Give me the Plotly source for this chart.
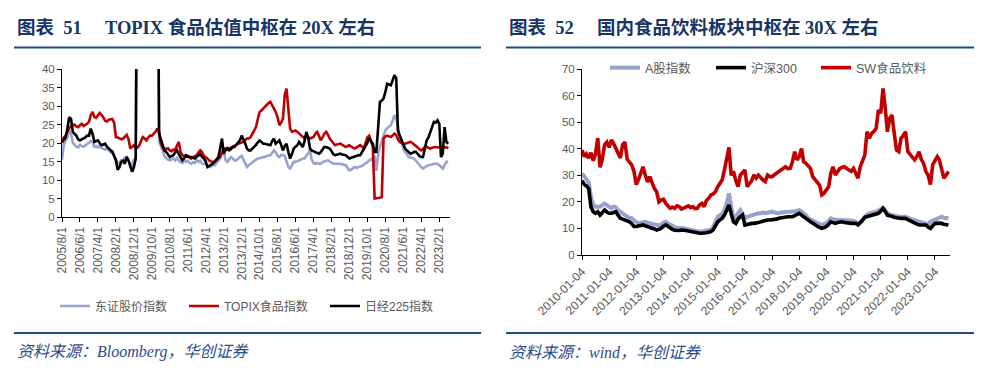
import pandas as pd
import plotly.graph_objects as go

# ---------------- Left chart data (monthly, from 2005-08) ----------------
jp_start = "2005-08-01"
jp_end = "2023-08-01"
topix = [
    15.5, 19.5, 20.5, 21.5, 23.5, 22.5, 20, 19.5, 19, 18.8,
    19.5, 19.2, 19, 19.3, 19.8, 20, 20.5, 20.3, 19, 19.2,
    18.8, 19.3, 18.6, 18.4, 18.2, 18.6, 17.9, 17.5, 17.8, 16.8,
    15.8, 14.5, 14.8, 15.4, 15.2, 16, 16.3, 15.5, 13.6, 14.2,
    15.5, 16, 100, 100, 100, 100, 100, 100, 100, 100,
    100, 100, 100, 100, 20.5, 19.5, 18, 16.5, 16, 15.5,
    15.3, 15.5, 15.8, 15.3, 16, 15.2, 14.9, 14.6, 15.2, 14.9,
    15.2, 14.6, 14.4, 14.8, 14.6, 15.4, 14.9, 15.2, 14.4, 14.3,
    14.5, 13.8, 13.5, 13.7, 14.2, 14, 14.6, 15.2, 15.8, 17.5,
    18, 15.5, 14.9, 15.5, 16.2, 15.8, 15.3, 15.3, 15.8, 16.2,
    16.5, 15.5, 14.5, 13.5, 14, 14.4, 14.8, 15.3, 15.5, 15.8,
    15.8, 16, 16.2, 16.2, 16.5, 16.7, 16.7, 17.3, 18, 17.5,
    16.5, 16.2, 16.8, 16.7, 16.5, 15, 13.5, 13.1, 14, 14.9,
    14.9, 15.2, 15.3, 15.5, 15.8, 15.8, 16.5, 17.5, 18, 15.5,
    14.6, 14.4, 14.6, 14.4, 14.4, 14.8, 15, 15.3, 15.3, 15,
    14.7, 14.4, 14.4, 14.5, 14.4, 14.4, 14.2, 14, 14, 13.2,
    12.6, 12.8, 13.3, 13.5, 13.3, 13.5, 13.5, 13.8, 14.2, 14.4,
    14.8, 15.3, 15.5, 16, 16.2, 12.5, 17, 19, 20.7, 22,
    23.4, 24, 24.5, 24.8, 26, 27.5, 26.5, 24.8, 21.5, 19.8,
    18.5, 17.5, 17, 16.2, 16, 15.8, 15.8, 15.2, 14.5, 14,
    13.5, 13.1, 13.5, 13.8, 14, 14, 14.2, 14.4, 14.3, 14.4,
    14, 13.5, 13.1, 14, 14.9, 14.9,
]
topix_food = [
    20, 21.5, 22, 23, 24, 24.5, 24.8, 25, 24.5, 24.3,
    24.8, 25.2, 24.6, 24.8, 25.2, 25.7, 27.5, 28.4, 27, 26.8,
    27.5, 28.1, 27.6, 27, 26, 25.8, 26.3, 26.3, 26.5, 25.5,
    21.6, 21.5, 21.2, 21, 21.2, 21.8, 22.2, 21, 18.5, 19,
    19.4, 18.5, 18.8, 19.4, 20.5, 21.6, 21.2, 20.7, 21.5, 22,
    22, 22.5, 23, 23.9, 23, 20, 18.8, 18.5, 18.3, 18.6,
    18, 17.8, 18.2, 18.2, 19.5, 20.3, 17.5, 16.7, 16.5, 16.2,
    16.4, 16, 15.8, 16.2, 16.5, 16.7, 17.5, 18, 17.5, 16.5,
    16.2, 15.6, 15.3, 15, 15, 14.9, 15.3, 15.8, 16.2, 17.3,
    18.5, 18.5, 18.7, 18.5, 18.7, 18.9, 19.2, 19.5, 19.8, 20,
    20.3, 20.3, 20.8, 21.2, 21.2, 21.6, 22.5, 23.4, 24.3, 26.5,
    28.4, 28.8, 29.3, 30, 30.6, 30.8, 31.1, 30, 29.3, 28.4,
    27, 24.8, 25.5, 26.6, 33, 34.7, 30, 23.9, 23, 23.2,
    23.4, 23, 22.5, 22, 21.5, 21.2, 22, 21.6, 21.2, 21.4,
    21.6, 22.5, 23, 22, 20.7, 21.5, 22.5, 23, 22.3, 21.2,
    20.5, 19.8, 19.4, 19.6, 19.8, 19.8, 19.5, 19.2, 18.9, 19.2,
    19.4, 19, 18.7, 18.5, 18.8, 19.2, 19.4, 19, 18.5, 20,
    21.5, 22, 20.7, 19, 5, 5, 5, 5.2, 5.4, 21.2,
    21.8, 22, 21.8, 21.6, 22, 22.5, 22.2, 21, 20.3, 20,
    19.8, 19.8, 20, 20.3, 20.3, 20, 19.6, 19.4, 18.8, 18.3,
    18, 18.4, 18.9, 18.9, 18.7, 18.5, 18.7, 18.9, 18.9, 18.8,
    18.9, 18.9, 18.7, 18.9, 18.9, 18.5,
]
nikkei225 = [
    20.3, 21, 21.5, 24, 27, 26.5, 23, 22.5, 22, 21,
    20.7, 21, 21.2, 21.5, 22, 22, 23.9, 22.5, 20.3, 20.5,
    20.7, 20, 19.4, 19.6, 19.8, 19, 18.5, 18, 17.6, 16.5,
    15.3, 12.8, 13.5, 14.9, 15.2, 14.4, 16.2, 15.3, 13.5, 12.2,
    13.5, 15.8, 100, 100, 100, 100, 100, 100, 100, 100,
    100, 100, 100, 100, 22.5, 21, 19, 18, 17.6, 17,
    16.2, 16.5, 16.7, 17.5, 18, 17, 16.2, 15.3, 15.8, 16.7,
    16.5, 16.2, 16.2, 16, 15.8, 16.3, 16.7, 17, 16.2, 15.8,
    15, 13.5, 13.8, 14, 14.4, 15, 15.5, 16.2, 18.5, 21.2,
    17.1, 18, 18.5, 18, 18.3, 18.9, 18.9, 19.5, 20.2, 20.7,
    22, 21, 19.8, 18.5, 18, 18, 18.5, 18.9, 19.5, 20.2,
    20.7, 20.3, 19.8, 19.8, 19.6, 19.4, 19.4, 20.5, 21.2, 19.8,
    20.2, 20.7, 19.5, 18, 19.2, 19.8, 17.5, 15.8, 17, 18.5,
    19, 19.4, 20.3, 19.5, 18.9, 20.5, 23, 21.5, 18.5, 18,
    17.8, 17.6, 17.3, 17.1, 17.5, 18.3, 18.9, 18.9, 18.7, 18.5,
    17.8, 17, 16.7, 16.9, 17.1, 17.1, 16.9, 16.7, 16.7, 16.2,
    15.8, 16, 16.2, 16.2, 16.4, 16.7, 16.7, 17.5, 18.3, 18.9,
    20, 21.2, 20.5, 19.8, 17.6, 17.6, 24.3, 31.1, 31.5, 32,
    33.8, 36, 35.8, 35.6, 36.9, 38.3, 37.5, 23.4, 22, 20.7,
    19.5, 18.5, 18, 17.5, 17.1, 17.3, 17.6, 17.6, 17, 16.5,
    16.2, 16.2, 18.5, 20.7, 21.5, 23, 24.5, 25.7, 25.5, 26.1,
    25.2, 16.2, 17.1, 24.3, 20.3, 19.8,
]
jp_tick_labels = [
    "2005/8/1", "2006/6/1", "2007/4/1", "2008/2/1", "2008/12/1", "2009/10/1",
    "2010/8/1", "2011/6/1", "2012/4/1", "2013/2/1", "2013/12/1", "2014/10/1",
    "2015/8/1", "2016/6/1", "2017/4/1", "2018/2/1", "2018/12/1", "2019/10/1",
    "2020/8/1", "2021/6/1", "2022/4/1", "2023/2/1",
]
jp_names = ["东证股价指数", "TOPIX食品指数", "日经225指数"]

# ---------------- Right chart data (monthly, from 2010-01-04) ----------------
cn_start = "2010-01-04"
cn_end = "2023-07-25"
a_share = [
    30.7, 29.5, 28.9, 27.3, 22, 18.8, 18.2, 18.3, 18.2, 18.8,
    19.4, 18.8, 18.2, 17.6, 18.2, 18, 16.9, 16.2, 15.7, 15,
    14.4, 14.1, 13.8, 13, 12.2, 11.9, 12.2, 12.5, 12.5, 12.2,
    11.9, 11.9, 11.6, 11.3, 11.3, 11.3, 12.2, 12.5, 11.9, 11.3,
    10.7, 10.5, 10.3, 10, 10.2, 10, 10, 9.7, 9.4, 9.4,
    9.1, 8.8, 8.8, 8.8, 9.1, 9.4, 9.4, 9.4, 10.5, 12.5,
    14.4, 15, 15.5, 16.9, 19.4, 23.2, 18.2, 13.2, 14.5, 15.7,
    16.9, 15.5, 13.8, 14.4, 14.7, 15, 15, 15.3, 15.7, 15.7,
    16, 15.7, 16, 16.3, 16.3, 16, 15.8, 15.7, 16, 16.2,
    16.3, 16.3, 16.3, 16.3, 16.5, 16.7, 16.9, 16.3, 15.7, 15,
    13.8, 13.5, 13, 12.5, 12, 11.6, 11.3, 11.6, 11.9, 12.8,
    13.8, 13.5, 13.2, 13.2, 13.2, 13.2, 13.2, 13.2, 13.2, 13,
    12.8, 12.5, 11.9, 12.5, 13.5, 14.4, 15.2, 15.7, 15.8, 16,
    16.3, 16.8, 17.2, 17.6, 16.8, 15.7, 15.3, 15, 14.8, 14.6,
    14.4, 14.4, 14.4, 14.4, 14, 13.6, 13.2, 13, 12.8, 12.5,
    12.3, 12, 11.9, 11.6, 12.5, 12.8, 13.2, 13.6, 14, 14.4,
    14, 13.8, 13.8,
]
hs300 = [
    28, 26.5, 26, 25, 18.2, 16.3, 15.7, 16.3, 15, 16,
    16.9, 16.2, 15.7, 15.7, 16, 16.3, 15, 13.8, 13.5, 13.2,
    12.8, 12.5, 11.8, 10.7, 10.7, 10.9, 11.1, 11.3, 11, 10.7,
    10.7, 10.2, 9.8, 9.4, 9.7, 10, 10.8, 11.3, 10.8, 10,
    9.6, 9.3, 9.2, 9.2, 9.4, 9.4, 9.2, 9, 8.8, 8.6,
    8.4, 8.2, 8.2, 8.2, 8.2, 8.4, 8.6, 8.8, 9.5, 11,
    12.5, 13.2, 13.8, 15, 17, 18.8, 15.5, 12.5, 11.9, 13.5,
    14.4, 15, 11.3, 11.5, 11.9, 11.9, 11.9, 11.9, 12.2, 12.5,
    12.8, 13.2, 13.2, 13.2, 13.2, 13.2, 13.5, 13.8, 14, 14.2,
    14.4, 14.4, 14.4, 14.4, 14.8, 15.2, 15.7, 15, 14.4, 13.8,
    12.8, 12.5, 12, 11.3, 10.8, 10.4, 10, 10.3, 10.7, 11.5,
    12.5, 12.2, 11.9, 12.2, 12.3, 12.5, 12.2, 12, 11.9, 11.9,
    11.9, 11.9, 11.3, 12, 13, 14.2, 14.4, 14.7, 15, 15.2,
    15.4, 15.7, 16.5, 17.6, 16.5, 15, 14.8, 14.4, 14.2, 14,
    13.8, 13.8, 13.8, 13.8, 13.3, 12.8, 12.5, 12, 11.6, 11.3,
    11.3, 11.3, 11.3, 10.5, 10, 11, 11.9, 12, 12, 11.9,
    11.6, 11.3, 11.3,
]
sw_food_bev = [
    39.5, 37, 38, 36.5, 38.5, 35.5, 38, 44, 33, 36,
    41.5, 42.5, 40.5, 43.3, 42, 40, 38, 36.5, 41.5, 42.5,
    36, 35, 33.9, 31.5, 26.5, 28.5, 31, 33.2, 30, 27.5,
    29.5, 27, 25, 23.8, 20, 20.7, 21, 19.4, 18.5, 17.6,
    18, 17.6, 18.5, 18.2, 17.3, 17.6, 18.2, 18.5, 17.8, 18.2,
    17.5, 17.6, 18.8, 19.4, 18.2, 20.5, 21.3, 22.6, 23, 23.8,
    25.7, 27, 28.2, 32, 37, 40.5, 30, 31.4, 28, 25.7,
    30.1, 31, 32, 25.7, 27, 28, 30.1, 28.9, 30.1, 29,
    28.2, 27.6, 30.1, 29.5, 29.5, 30.2, 30.7, 31.5, 32, 32.6,
    33.2, 32.5, 32.6, 35, 38.9, 35.8, 37, 40.1, 35.1, 34.5,
    33.5, 32.6, 29.5, 28.5, 27.6, 26.3, 22.6, 23.2, 24.5, 25.7,
    30.7, 33.2, 30.1, 31.5, 32.6, 33, 33.2, 32.5, 32, 31.5,
    32.6, 30.5, 28.9, 33.2, 35, 37.6, 46.4, 43.9, 45.8, 46.5,
    47.7, 54.6, 53.3, 62.7, 55.8, 46.4, 51.4, 52.7, 46, 39.5,
    38.9, 43.9, 45, 46.4, 38.9, 38, 37, 35.8, 37, 38.9,
    36, 34.5, 31.4, 30, 26.5, 33.9, 35.5, 37, 35.8, 32,
    28.9, 30.1, 31.4,
]
cn_tick_labels = [
    "2010-01-04", "2011-01-04", "2012-01-04", "2013-01-04", "2014-01-04",
    "2015-01-04", "2016-01-04", "2017-01-04", "2018-01-04", "2019-01-04",
    "2020-01-04", "2021-01-04", "2022-01-04", "2023-01-04",
]
cn_names = ["A股指数", "沪深300", "SW食品饮料"]

title_left = "图表\u00a0\u00a051\u00a0\u00a0\u00a0\u00a0\u00a0TOPIX 食品估值中枢在 20X 左右"
title_right = "图表\u00a0\u00a052\u00a0\u00a0\u00a0\u00a0\u00a0国内食品饮料板块中枢在 30X 左右"
source_left = "资料来源：Bloomberg，华创证券"
source_right = "资料来源：wind，华创证券"

# ---------------- figure ----------------
W, H = 987, 370
def px_x(v):
    return v / W
def px_y(v):
    return 1 - v / H

jp_dates = pd.date_range(jp_start, periods=len(topix), freq="MS")
cn_dates = pd.date_range(cn_start, periods=len(a_share), freq=pd.DateOffset(months=1))
jp_tick_dates = [pd.to_datetime(t, format="%Y/%m/%d") for t in jp_tick_labels]
cn_tick_dates = [pd.to_datetime(t) for t in cn_tick_labels]

BLUE = "#97A3CD"
RED = "#C00000"
BLACK = "#000000"
GREY = "#595959"
SANS = "Liberation Sans, Arial, Noto Sans CJK SC"

fig = go.Figure()
left_legends = ["legend", "legend2", "legend3"]
right_legends = ["legend4", "legend5", "legend6"]
for vals, name, col, lg in zip([topix, topix_food, nikkei225], jp_names, [BLUE, RED, BLACK], left_legends):
    fig.add_trace(go.Scatter(x=jp_dates, y=vals, name=name, mode="lines",
                             line=dict(color=col, width=2.6), xaxis="x", yaxis="y",
                             legend=lg))
for vals, name, col, w, lg in zip([a_share, hs300, sw_food_bev], cn_names, [BLUE, BLACK, RED],
                                  [4, 3.6, 3.6], right_legends):
    fig.add_trace(go.Scatter(x=cn_dates, y=vals, name=name, mode="lines",
                             line=dict(color=col, width=w), xaxis="x2", yaxis="y2",
                             legend=lg))

axis_common = dict(showgrid=False, zeroline=False, showline=True, linecolor="black",
                   linewidth=1, ticks="outside", ticklen=4, tickcolor="black",
                   tickwidth=1, fixedrange=True, automargin=False)

legend_layout = {}
for lg, xpx in zip(left_legends, [55, 184, 325]):
    legend_layout[lg] = dict(orientation="h", x=px_x(xpx), xanchor="left", y=px_y(306),
                             yanchor="middle", font=dict(size=12, color=GREY, family=SANS),
                             bgcolor="rgba(0,0,0,0)", itemwidth=30)
for lg, xpx in zip(right_legends, [605, 711, 816]):
    legend_layout[lg] = dict(orientation="h", x=px_x(xpx), xanchor="left", y=px_y(68),
                             yanchor="middle", font=dict(size=12.5, color=GREY, family=SANS),
                             bgcolor="rgba(0,0,0,0)", itemwidth=30)

fig.update_layout(
    width=W, height=H, autosize=False,
    margin=dict(l=0, r=0, t=0, b=0, pad=0, autoexpand=False),
    paper_bgcolor="white", plot_bgcolor="white",
    font=dict(family=SANS, color=GREY),
    xaxis=dict(domain=[px_x(62), px_x(450)], anchor="y", type="date",
               range=[jp_start, jp_end], tickmode="array", tickvals=jp_tick_dates,
               ticktext=jp_tick_labels, tickangle=-90,
               tickfont=dict(size=12, color=GREY, family=SANS), **axis_common),
    yaxis=dict(domain=[px_y(217), px_y(69)], anchor="x", range=[0, 40], dtick=5,
               tickfont=dict(size=11.5, color=GREY, family=SANS), **axis_common),
    xaxis2=dict(domain=[px_x(582), px_x(950)], anchor="y2", type="date",
                range=[cn_start, cn_end], tickmode="array", tickvals=cn_tick_dates,
                ticktext=cn_tick_labels, tickangle=-45,
                tickfont=dict(size=12, color=GREY, family=SANS), **axis_common),
    yaxis2=dict(domain=[px_y(255), px_y(69)], anchor="x2", range=[0, 70], dtick=10,
                tickfont=dict(size=11.5, color=GREY, family=SANS), **axis_common),
    showlegend=True,
    **legend_layout,
)

TITLE_COLOR = "#183564"
RULE_COLOR = "#1D4A86"
SRC_COLOR = "#2B4C8C"
SERIF = "Liberation Serif, Times New Roman, Noto Sans CJK SC"

for x0, x1, title, src in [(14, 481, title_left, source_left), (506, 974, title_right, source_right)]:
    fig.add_annotation(x=px_x(x0 + 1), y=px_y(27), xref="paper", yref="paper",
                       xanchor="left", yanchor="middle", showarrow=False,
                       text="<b>" + title + "</b>",
                       font=dict(family=SERIF, size=18.5, color=TITLE_COLOR))
    fig.add_annotation(x=px_x(x0 + 1), y=px_y(352), xref="paper", yref="paper",
                       xanchor="left", yanchor="middle", showarrow=False,
                       text="<i>" + src + "</i>",
                       font=dict(family=SERIF, size=16, color=SRC_COLOR))
    for yy in (47.5, 333):
        fig.add_shape(type="line", xref="paper", yref="paper",
                      x0=px_x(x0), x1=px_x(x1), y0=px_y(yy), y1=px_y(yy),
                      line=dict(color=RULE_COLOR, width=2.2))

fig.write_html("out.html", config={"displayModeBar": False},
               post_script="document.body.style.margin='0';")
